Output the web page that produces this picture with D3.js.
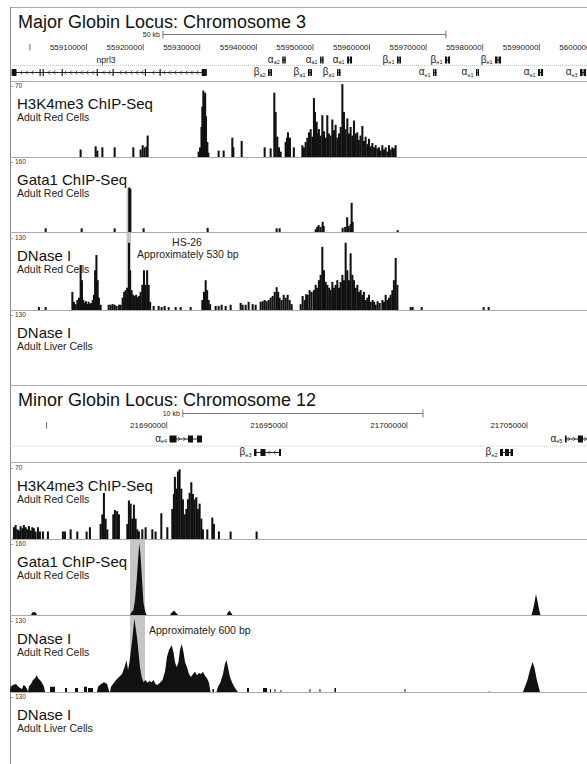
<!DOCTYPE html>
<html>
<head>
<meta charset="utf-8">
<script src="https://cdn.jsdelivr.net/npm/d3@7"></script>
<style>
  body { margin: 0; background: #fff; }
  svg { display: block; font-family: "Liberation Sans", Arial, sans-serif; }
</style>
</head>
<body>
<script>
// ---- data (positions in kb from each locus origin) ----
const majorTitle = "Major Globin Locus: Chromosome 3";
const minorTitle = "Minor Globin Locus: Chromosome 12";
const majorOrigin = 55900000;
const minorOrigin = 21680000;
const majorView = [55896480, 55998420];
const minorView = [21683476, 21707498];

const majorTicks = [55900000, 55910000, 55920000, 55930000, 55940000, 55950000, 55960000, 55970000, 55980000, 55990000, 56000000];
const majorTickLabels = ["", "55910000", "55920000", "55930000", "55940000", "55950000", "55960000", "55970000", "55980000", "55990000", "56000000"];
const minorTicks = [21685000, 21690000, 21695000, 21700000, 21705000];
const minorTickLabels = ["", "21690000", "21695000", "21700000", "21705000"];
const majorScaleBar = { label: "50 kb", start: 55923500, length: 50000 };
const minorScaleBar = { label: "10 kb", start: 21690670, length: 10000 };

const trackNames = ["H3K4me3 ChIP-Seq", "Gata1 ChIP-Seq", "DNase I", "DNase I"];
const trackCells = ["Adult Red Cells", "Adult Red Cells", "Adult Red Cells", "Adult Liver Cells"];
const trackMax = [70, 160, 130, 130];

const majorGenes = [
  { name: "nprl3", row: 2, start: -3.22, end: 31.24, strand: -1, labelAt: 13.45,
    exons: [[-3.22, -2.37], [1.7, 1.9], [2.25, 2.45], [5.6, 5.8], [11.8, 12.0], [14.6, 14.8], [20.3, 20.5], [22.9, 23.1], [30.35, 31.24]] },
  { sym: "α", sub: "a2", row: 1, start: 44.58, end: 45.20 },
  { sym: "α", sub: "a1", row: 1, start: 51.26, end: 51.88 },
  { sym: "α", sub: "a1", row: 1, start: 56.03, end: 56.91 },
  { sym: "β", sub: "e1", row: 1, start: 64.85, end: 65.56 },
  { sym: "β", sub: "e1", row: 1, start: 73.33, end: 74.22 },
  { sym: "β", sub: "e1", row: 1, start: 82.17, end: 83.23 },
  { sym: "β", sub: "a2", row: 2, start: 42.07, end: 42.77 },
  { sym: "β", sub: "a1", row: 2, start: 49.13, end: 49.84 },
  { sym: "β", sub: "a1", row: 2, start: 54.26, end: 54.88 },
  { sym: "α", sub: "e1", row: 2, start: 71.22, end: 71.84 },
  { sym: "α", sub: "e1", row: 2, start: 78.81, end: 79.34 },
  { sym: "α", sub: "e1", row: 2, start: 89.77, end: 90.66 },
  { sym: "α", sub: "e3", row: 2, start: 97.19, end: 98.25 }
];
const minorGenes = [
  { sym: "α", sub: "e4", row: 1, start: 10.118, end: 11.469, strand: 1, exons: [[10.118, 10.41], [10.886, 11.095], [11.261, 11.469]] },
  { sym: "α", sub: "e5", row: 1, start: 26.58, end: 27.83, strand: 1, exons: [[26.58, 26.65], [27.12, 27.33], [27.54, 27.83]] },
  { sym: "β", sub: "e3", row: 2, start: 13.634, end: 14.758, strand: -1, exons: [[13.634, 13.738], [13.904, 14.112], [14.674, 14.758]] },
  { sym: "β", sub: "e2", row: 2, start: 23.876, end: 24.417, strand: -1, exons: [[23.876, 24.001], [24.084, 24.251], [24.313, 24.417]] }
];

// [kb, value]
const majorH3k4 = [[8.85,7],[11.5,10],[11.8,6],[12.69,9],[14.86,9],[18.16,9],[19.45,7],[19.81,11],[20.16,9],[20.51,10],[20.69,20],
  [29.7,5],[29.95,9],[30.2,28],[30.35,47],[30.53,62],[30.7,56],[30.85,60],[31.0,38],[31.24,14],[31.41,4],
  [33.23,6],[34.12,6],[35.65,18],[35.83,9],[37.3,15],[41.36,9],[42.42,8],
  [43.07,60],[43.3,42],[43.6,19],[43.89,9],[44.19,5],[45.07,14],[45.3,18],[45.48,23],[45.83,18],[46.52,9],
  [48.02,11],[48.3,9],[48.6,14],[48.9,18],[49.19,23],[49.49,26],[49.79,19],[50.07,55],[50.25,42],[50.55,33],[50.8,22],[50.95,26],
  [51.25,20],[51.55,39],[51.85,24],[52.15,18],[52.43,39],[52.7,22],[53.0,20],[53.32,35],[53.6,25],[53.9,30],[54.2,18],[54.5,22],
  [54.8,28],[55.09,68],[55.37,42],[55.65,26],[55.97,36],[56.25,22],[56.55,28],[56.85,20],[57.14,34],[57.45,22],[57.73,23],[58.0,16],
  [58.3,20],[58.62,29],[58.9,15],[59.2,19],[59.5,12],[59.79,17],[60.1,10],[60.38,13],[60.7,9],[60.97,11],[61.3,8],[61.56,9],
  [61.85,6],[62.15,11],[62.45,7],[62.74,9],[63.05,5],[63.32,11],[63.6,7],[63.92,9],[64.2,8],[64.5,11]];
const majorGata1 = [[2.67,8],[9.03,8],[14.86,8],[17.44,96],[17.63,93],[19.98,8],[31.29,9],[43.48,8],[44.01,8],
  [50.37,6],[50.64,11],[50.9,15],[51.25,11],[51.61,22],[51.79,13],[55.14,9],[55.58,11],[55.94,32],[56.2,13],[56.55,17],
  [56.73,63],[56.91,22],[64.86,4]];
const majorDnaseRed = [[1.48,5],[2.67,5],
  [7.39,31],[7.67,14],[7.97,10],[8.27,17],[8.55,21],[8.85,77],[9.08,51],[9.33,17],[9.56,12],[9.79,15],[10.04,10],[10.26,14],
  [10.49,10],[10.74,12],[10.97,17],[11.2,26],[11.41,68],[11.64,94],[11.86,51],[12.08,21],[12.39,9],
  [13.8,9],[14.15,9],[14.51,10],[14.86,9],[15.21,7],[15.65,9],
  [15.92,9],[16.27,21],[16.54,31],[16.8,34],[17.07,38],[17.39,115],[17.6,68],[17.86,34],[18.13,26],[18.39,24],[18.66,26],
  [18.92,22],[19.19,24],[19.45,31],[19.75,43],[20.04,68],[20.3,43],[20.6,68],[20.87,43],[21.13,14],
  [21.75,7],[22.63,7],[23.16,5],[23.69,7],[24.4,5],[25.64,5],[26.52,5],[28.29,5],
  [30.35,17],[30.64,31],[30.94,51],[31.2,34],[31.47,17],[31.73,10],
  [32.7,7],[33.23,7],[33.76,9],[34.47,7],[35.35,9],
  [37.12,12],[37.47,9],[38.0,9],[38.53,14],[39.24,10],[39.77,9],
  [40.65,14],[41.01,15],[41.36,17],[41.71,15],[42.07,17],[42.42,21],[42.77,24],[43.13,31],[43.48,39],[43.75,31],[44.01,21],
  [44.36,17],[44.72,26],[45.07,21],[45.42,26],[45.78,17],[46.13,10],
  [47.72,10],[48.07,24],[48.43,17],[48.69,27],[48.96,26],[49.31,34],[49.66,31],[50.07,34],[50.37,43],[50.64,38],[50.95,51],
  [51.25,60],[51.55,108],[51.84,68],[52.14,48],[52.44,43],[52.76,38],[53.02,34],[53.32,48],[53.6,38],[53.9,43],[54.2,51],
  [54.49,38],[54.79,48],[55.09,60],[55.37,51],[55.67,115],[55.97,68],[56.25,51],[56.55,97],[56.86,60],[57.14,51],[57.44,38],
  [57.74,43],[58.02,31],[58.32,34],[58.62,26],[58.9,31],[59.21,17],[59.51,21],[59.79,26],[60.09,14],[60.44,17],[60.71,14],
  [60.97,9],[61.32,15],[61.68,12],[62.16,17],[62.44,14],[62.74,26],[63.04,17],[63.32,21],[63.62,26],[63.92,34],[64.2,51],
  [64.51,89],[64.81,43],
  [67.16,5],[67.51,5],[69.1,5],[80.05,5],[80.94,5]];
const majorDnaseLiver = [];

const minorH3k4 = [[3.614,11],[3.684,13],[3.755,9],[3.822,8],[3.892,12],[3.963,10],[4.03,13],[4.101,11],[4.171,9],[4.238,12],
  [4.309,8],[4.379,11],[4.446,10],[4.517,7],[4.613,11],[4.696,7],[4.821,7],[5.029,7],[5.653,7],[5.737,7],[5.974,9],[6.253,7],
  [6.64,7],[6.777,11],[7.223,14],[7.294,23],[7.36,43],[7.431,19],[7.502,9],[7.751,23],[7.818,27],[7.91,26],[7.985,23],
  [8.334,14],[8.401,36],[8.472,33],[8.542,19],[8.609,32],[8.68,19],[8.751,9],[8.817,7],[8.959,9],[9.096,11],[9.375,9],
  [9.512,7],[9.75,24],[10.0,11],[10.208,28],[10.274,42],[10.316,58],[10.387,47],[10.441,63],[10.511,65],[10.582,47],
  [10.649,37],[10.72,23],[10.791,28],[10.857,37],[10.928,43],[10.999,53],[11.065,42],[11.136,37],[11.207,39],[11.273,28],
  [11.344,33],[11.415,19],[11.482,9],[11.665,9],[11.873,20],[11.939,14],[12.148,7],[12.635,7],[13.717,7]];
const minorGata1 = [[4.35,0],[4.413,6],[4.538,6],[4.601,0],
  [8.471,0],[8.534,6],[8.617,11],[8.68,32],[8.751,75],[8.805,117],[8.859,153],[8.909,128],[8.972,75],[9.034,26],[9.096,9],[9.159,0],
  [10.137,0],[10.22,6],[10.303,9],[10.408,4],[10.47,0],
  [12.489,0],[12.551,6],[12.614,9],[12.697,4],[12.739,0],
  [25.186,0],[25.248,11],[25.311,26],[25.373,45],[25.436,30],[25.498,13],[25.561,0]];
const minorDnaseRed = [[3.476,0],[3.497,9],[3.601,12],[3.726,14],[3.809,10],[3.892,7],[3.976,5],[4.038,12],[4.121,10],[4.184,5],[4.226,0],
  [4.267,10],[4.35,14],[4.434,21],[4.517,24],[4.587,29],[4.662,23],[4.725,21],[4.808,16],[4.892,9],[4.933,0],
  [5.142,0],[5.142,9],[5.35,9],[5.35,0],[5.766,0],[5.766,7],[5.85,7],[5.85,0],[6.182,0],[6.182,7],[6.307,7],[6.307,0],
  [6.557,0],[6.557,9],[6.682,9],[6.682,0],[6.724,0],[6.724,7],[6.932,7],[6.932,0],
  [7.098,0],[7.14,9],[7.265,14],[7.39,17],[7.515,14],[7.577,5],[7.619,0],
  [7.64,0],[7.681,9],[7.765,14],[7.89,21],[8.015,26],[8.14,31],[8.244,43],[8.327,55],[8.389,38],[8.452,52],[8.514,73],[8.576,95],
  [8.651,127],[8.701,113],[8.763,95],[8.826,69],[8.888,43],[8.959,26],[9.034,17],[9.117,21],[9.2,16],[9.284,19],[9.367,17],
  [9.45,21],[9.533,14],[9.616,12],[9.72,16],[9.825,21],[9.929,35],[10.012,61],[10.095,73],[10.208,81],[10.282,69],[10.345,52],
  [10.416,43],[10.491,52],[10.553,73],[10.624,83],[10.699,69],[10.762,52],[10.845,43],[10.928,31],[11.011,26],[11.095,31],
  [11.178,35],[11.261,29],[11.344,33],[11.428,31],[11.511,35],[11.594,28],[11.678,24],[11.761,16],[11.823,0],
  [11.906,0],[11.906,5],[11.968,5],[11.968,0],
  [12.073,0],[12.135,9],[12.239,17],[12.343,31],[12.426,49],[12.489,55],[12.551,43],[12.635,26],[12.718,17],[12.801,10],[12.905,3],[12.968,0],
  [13.342,0],[13.342,7],[13.425,7],[13.425,0],[14.008,0],[14.008,7],[14.175,7],[14.175,0],[14.3,0],[14.3,5],[14.342,5],[14.342,0],
  [14.487,0],[14.487,5],[14.528,5],[14.528,0],[14.737,0],[14.737,3],[14.779,3],[14.779,0],[15.944,0],[15.944,5],[15.985,5],[15.985,0],
  [16.361,0],[16.361,5],[16.402,5],[16.402,0],[16.985,0],[16.985,7],[17.048,7],[17.048,0],[19.899,0],[19.899,5],[19.941,5],[19.941,0],
  [23.41,0],[23.41,2],[23.43,2],[23.43,0],
  [24.833,0],[24.916,9],[25.02,21],[25.124,38],[25.232,52],[25.311,42],[25.394,24],[25.477,10],[25.54,0]];
const minorDnaseLiver = [];

const majorHighlight = { start: 17.07, end: 17.86, topValue: 96 };
const minorHighlight = { start: 8.472, end: 9.096, topValue: 160 };
const majorNotes = ["HS-26", "Approximately 530 bp"];
const minorNotes = ["Approximately 600 bp"];

// ---- drawing ----
const W = 587, H = 764;
const svg = d3.select("body").append("svg").attr("width", W).attr("height", H);

// outer frame
svg.append("line").attr("x1", 10).attr("x2", W).attr("y1", 7.5).attr("y2", 7.5)
  .attr("stroke", "#aaa").attr("stroke-width", 1);
svg.append("line").attr("x1", 10.5).attr("x2", 10.5).attr("y1", 7).attr("y2", H)
  .attr("stroke", "#888").attr("stroke-width", 1);

const loci = [
  { title: majorTitle, origin: majorOrigin, view: majorView, ticks: majorTicks, tickLabels: majorTickLabels,
    scaleBar: majorScaleBar, genes: majorGenes, binKb: 0.36,
    tracks: [majorH3k4, majorGata1, majorDnaseRed, majorDnaseLiver], kinds: ["bar", "bar", "bar", "bar"],
    highlight: majorHighlight,
    top: 7, barY: 34.5, rows: { 1: 60, 2: 72.5 }, rowSep: 65.5, geneBottom: 81.5,
    trackTops: [82, 158, 234, 311], trackBottoms: [157, 232, 310, 385],
    notes: [{ text: majorNotes[0], x: 187, y: 246, anchor: "middle" }, { text: majorNotes[1], x: 137, y: 257.5, anchor: "start" }] },
  { title: minorTitle, origin: minorOrigin, view: minorView, ticks: minorTicks, tickLabels: minorTickLabels,
    scaleBar: minorScaleBar, genes: minorGenes, binKb: 0.085,
    tracks: [minorH3k4, minorGata1, minorDnaseRed, minorDnaseLiver], kinds: ["bar", "area", "area", "area"],
    highlight: minorHighlight,
    top: 385, barY: 413.5, rows: { 1: 439, 2: 452.5 }, rowSep: 446, geneBottom: 462.5,
    trackTops: [464, 540, 617, 693], trackBottoms: [539, 615, 692, 764],
    notes: [{ text: minorNotes[0], x: 149, y: 633.5, anchor: "start" }] }
];

function drawLocus(L) {
  const g = svg.append("g");
  const x = d3.scaleLinear().domain(L.view).range([10, W]);
  const bp = k => L.origin + k * 1000;
  const top = L.top;

  g.append("text").attr("x", 18).attr("y", top + 21).attr("font-size", 18).attr("fill", "#111").text(L.title);

  // scale bar
  const sb = L.scaleBar;
  g.append("text").attr("x", x(sb.start) - 3).attr("y", L.barY + 2.8).attr("text-anchor", "end")
    .attr("font-size", 7).attr("fill", "#222").text(sb.label);
  g.append("line").attr("x1", x(sb.start)).attr("x2", x(sb.start + sb.length))
    .attr("y1", L.barY).attr("y2", L.barY).attr("stroke", "#555").attr("stroke-width", 0.8);
  [sb.start, sb.start + sb.length].forEach(p => {
    g.append("line").attr("x1", x(p)).attr("x2", x(p)).attr("y1", L.barY - 4).attr("y2", L.barY + 4)
      .attr("stroke", "#555").attr("stroke-width", 0.8);
  });

  // ruler
  L.ticks.forEach((t, i) => {
    g.append("line").attr("x1", x(t)).attr("x2", x(t)).attr("y1", top + 37).attr("y2", top + 43.5)
      .attr("stroke", "#444").attr("stroke-width", 0.8);
    g.append("text").attr("x", x(t) - 1).attr("y", top + 43).attr("text-anchor", "end")
      .attr("font-size", 8).attr("fill", "#222").text(L.tickLabels[i]);
  });

  // gene area separators
  g.append("line").attr("x1", 10).attr("x2", W).attr("y1", L.rowSep).attr("y2", L.rowSep)
    .attr("stroke", "#bbb").attr("stroke-width", 0.8).attr("stroke-dasharray", "1,1");
  g.append("line").attr("x1", 10).attr("x2", W).attr("y1", L.geneBottom).attr("y2", L.geneBottom)
    .attr("stroke", "#aaa").attr("stroke-width", 1);

  // genes
  L.genes.forEach(gn => {
    const y = L.rows[gn.row];
    const x0 = x(bp(gn.start)), x1 = x(bp(gn.end));
    const len = gn.end - gn.start;
    const exons = gn.exons || [[gn.start, gn.start + len * 0.42], [gn.end - len * 0.42, gn.end]];
    const gg = g.append("g");
    gg.append("line").attr("x1", x0).attr("x2", x1).attr("y1", y).attr("y2", y)
      .attr("stroke", "#111").attr("stroke-width", 0.9);
    if (gn.strand) {
      const ex = exons.map(e => [x(bp(e[0])), x(bp(e[1]))]);
      for (let cx = x0 + 4; cx < x1 - 2; cx += 5.5) {
        if (ex.some(e => cx > e[0] - 2 && cx < e[1] + 2)) continue;
        const d = gn.strand < 0
          ? `M${cx + 1.2},${y - 2} L${cx - 0.8},${y} L${cx + 1.2},${y + 2}`
          : `M${cx - 1.2},${y - 2} L${cx + 0.8},${y} L${cx - 1.2},${y + 2}`;
        gg.append("path").attr("d", d).attr("fill", "none").attr("stroke", "#111").attr("stroke-width", 0.7);
      }
    }
    exons.forEach(e => {
      const ex0 = x(bp(e[0])), ex1 = x(bp(e[1]));
      gg.append("rect").attr("x", ex0).attr("y", y - 3.5).attr("width", Math.max(1, ex1 - ex0)).attr("height", 7)
        .attr("fill", "#111");
    });
    if (gn.sym) {
      const t = gg.append("text").attr("x", x0 - 2.5).attr("y", y + 2.5).attr("text-anchor", "end").attr("fill", "#222");
      t.append("tspan").attr("font-size", 10).text(gn.sym);
      t.append("tspan").attr("font-size", 5.5).attr("dy", 1.8).text(gn.sub);
    } else {
      g.append("text").attr("x", x(bp(gn.labelAt))).attr("y", L.rows[1] + 3).attr("text-anchor", "middle")
        .attr("font-size", 8.5).attr("fill", "#222").text(gn.name);
    }
  });

  // tracks
  const ys = L.tracks.map((d, i) => d3.scaleLinear().domain([0, trackMax[i]]).range([L.trackBottoms[i], L.trackTops[i]]));

  // highlight band (Gata1 peak through DNase I)
  const hl = L.highlight;
  g.append("rect").attr("x", x(bp(hl.start))).attr("width", x(bp(hl.end)) - x(bp(hl.start)))
    .attr("y", ys[1](hl.topValue)).attr("height", L.trackBottoms[2] - ys[1](hl.topValue))
    .attr("fill", "#c6c6c6");

  L.tracks.forEach((data, i) => {
    const tt = L.trackTops[i], tb = L.trackBottoms[i];
    const y = ys[i];
    g.append("text").attr("x", 11).attr("y", tt + 5.5).attr("font-size", 6.5).attr("fill", "#333")
      .text("- " + trackMax[i]);
    g.append("text").attr("x", 17).attr("y", tt + 27).attr("font-size", 15).attr("fill", "#111").text(trackNames[i]);
    g.append("text").attr("x", 17).attr("y", tt + 39).attr("font-size", 10.5).attr("fill", "#222").text(trackCells[i]);

    if (L.kinds[i] === "bar") {
      g.append("g").selectAll("rect").data(data).join("rect")
        .attr("x", d => x(bp(d[0])) - 0.4)
        .attr("width", d => Math.max(1.3, x(bp(d[0] + L.binKb)) - x(bp(d[0]))))
        .attr("y", d => y(d[1]))
        .attr("height", d => tb - y(d[1]))
        .attr("fill", "#111");
    } else if (data.length) {
      const area = d3.area().x(d => x(bp(d[0]))).y0(tb).y1(d => y(d[1]));
      g.append("path").datum(data).attr("d", area).attr("fill", "#111");
    }
    if (tb < H) {
      g.append("line").attr("x1", 10).attr("x2", W).attr("y1", tb + 0.5).attr("y2", tb + 0.5)
        .attr("stroke", "#aaa").attr("stroke-width", 1);
    }
  });

  L.notes.forEach(n => {
    g.append("text").attr("x", n.x).attr("y", n.y).attr("text-anchor", n.anchor)
      .attr("font-size", 10.5).attr("fill", "#222").text(n.text);
  });
}

loci.forEach(drawLocus);
</script>
</body>
</html>
